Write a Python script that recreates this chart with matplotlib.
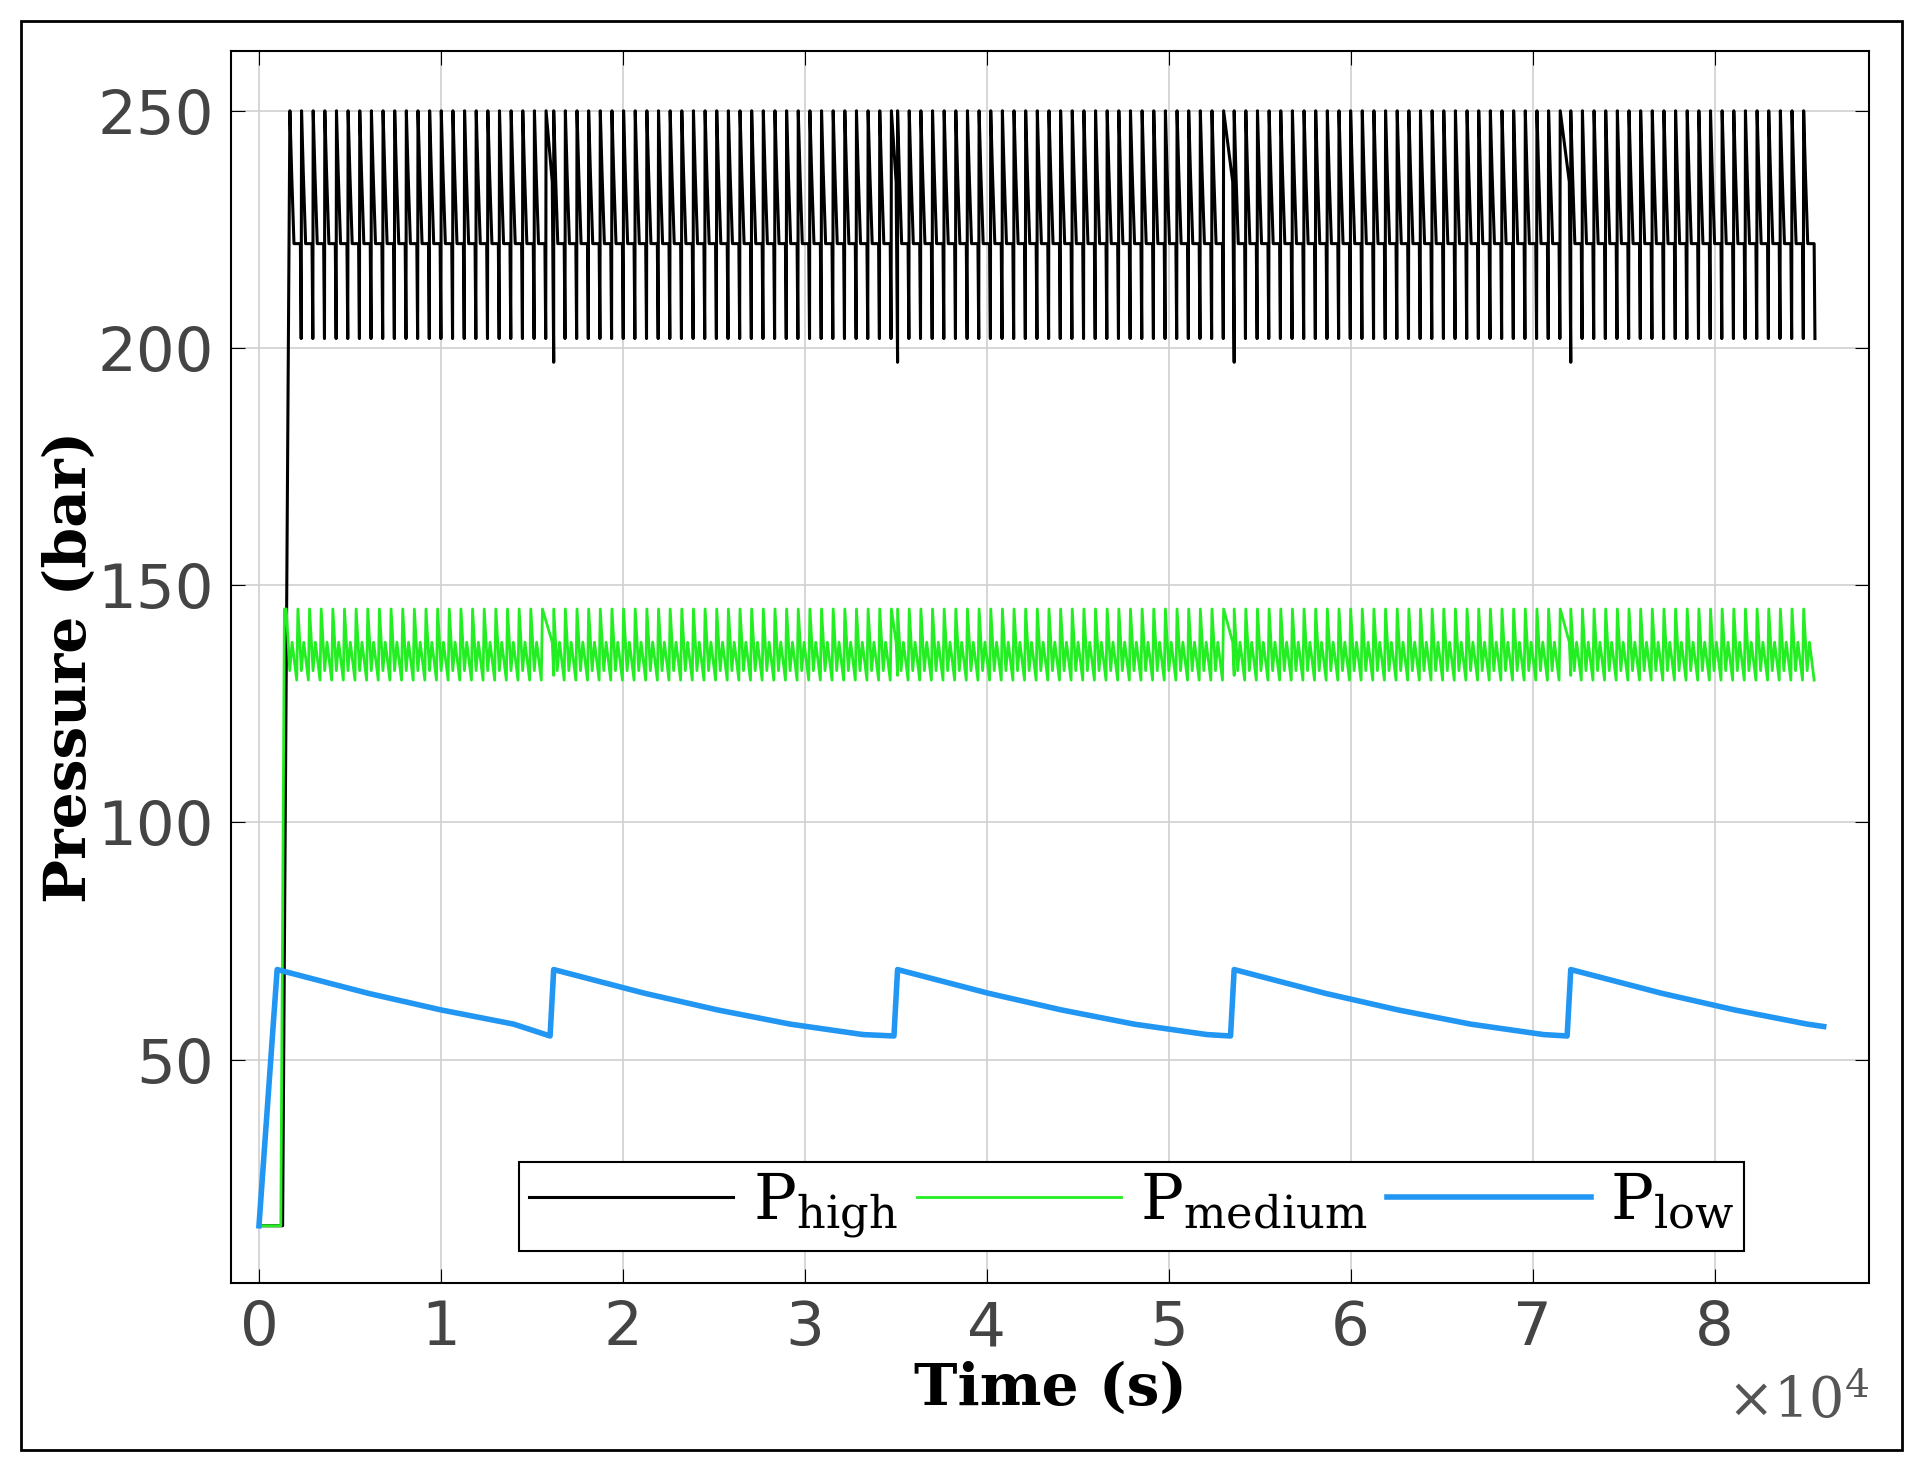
import numpy as np
import matplotlib.pyplot as plt

plt.rcParams["mathtext.fontset"] = "dejavuserif"

# refill events (s) and cycle timing
event_times = [1.62e4, 3.51e4, 5.36e4, 7.21e4]
t_start = 0.15e4
t_end = 8.6e4
cycle_period = 640.0

# one compressor cycle, (fraction of period, pressure)
high_cycle = [(0.0, 250), (0.15, 237), (0.35, 222), (0.9, 222), (0.97, 202)]
medium_cycle = [(0.0, 145), (0.3, 132), (0.5, 138), (0.9, 130)]
# low-pressure tank decay after each refill, (s after refill, bar)
low_decay = [(0, 69), (2000, 67), (5000, 64), (9000, 60.5), (13000, 57.5), (17000, 55.3)]

# start-up ramp values
high_rise = [(0, 15), (0.13e4, 15), (0.17e4, 250)]
medium_rise = [(0, 15), (0.12e4, 15), (0.14e4, 145)]
low_rise = [(0, 15), (0.1e4, 69)]

# values around refill events
high_pre, high_dip = 235, 197
medium_pre, medium_dip = 138, 131

yticks = [50, 100, 150, 200, 250]
xticks = [0, 1e4, 2e4, 3e4, 4e4, 5e4, 6e4, 7e4, 8e4]


def tile(cycle, t0, t1, pre, dip):
    ts, ps = [], []
    bounds = [t0] + event_times + [t1]
    for a, b in zip(bounds[:-1], bounds[1:]):
        t = a
        while t + cycle_period < b - 100:
            for f, p in cycle:
                ts.append(t + f * cycle_period)
                ps.append(p)
            t += cycle_period
        if b != t1:
            ts += [t, b - 80, b]
            ps += [cycle[0][1], pre, dip]
    return ts, ps


ht, hp = tile(high_cycle, t_start + 200, t_end, high_pre, high_dip)
ht = [p[0] for p in high_rise] + ht
hp = [p[1] for p in high_rise] + hp
mt, mp = tile(medium_cycle, t_start, t_end, medium_pre, medium_dip)
mt = [p[0] for p in medium_rise] + mt
mp = [p[1] for p in medium_rise] + mp

lt = [p[0] for p in low_rise]
lp = [p[1] for p in low_rise]
starts = [0.1e4] + event_times
for i, s in enumerate(starts):
    nxt = starts[i + 1] if i + 1 < len(starts) else t_end
    for dt, p in low_decay:
        if s + dt < nxt - 200:
            lt.append(s + dt)
            lp.append(p)
    if i + 1 == len(starts):
        lt.append(t_end)
        lp.append(57)
    else:
        lt.append(nxt - 200)
        lp.append(55)

fig = plt.figure(figsize=(19.23, 14.71), dpi=100)
ax = fig.add_axes([0.12, 0.128, 0.852, 0.837])
ax.plot(ht, hp, color="black", lw=2.2, label=r"P$_{\rm high}$")
ax.plot(mt, mp, color="#22ee22", lw=2.0, label=r"P$_{\rm medium}$")
ax.plot(lt, lp, color="#2196f3", lw=4, label=r"P$_{\rm low}$")

ax.set_xlim(-0.155e4, 8.85e4)
ax.set_ylim(3, 262.5)
ax.set_xticks(xticks)
ax.set_xticklabels([str(i) for i in range(9)])
ax.set_yticks(yticks)
ax.grid(color="#d0d0d0", lw=1.2)
ax.tick_params(direction="in", length=10, labelsize=44, labelcolor="#444444",
               top=True, right=True, pad=12)
for s in ax.spines.values():
    s.set_linewidth(1.5)
ax.text(1.0, -0.075, r"$\times10^4$", transform=ax.transAxes, fontsize=40,
        color="#555555", ha="right", va="top")
ax.set_xlabel("Time (s)", family="DejaVu Serif", fontweight="bold", fontsize=42, labelpad=2)
ax.set_ylabel("Pressure (bar)", family="DejaVu Serif", fontweight="bold", fontsize=42, labelpad=0)

leg = ax.legend(loc="lower center", bbox_to_anchor=(0.55, 0.0), ncol=3, fancybox=False,
                edgecolor="black", framealpha=1, handlelength=3.2, handletextpad=0.3,
                columnspacing=0.3, prop={"family": "DejaVu Serif", "size": 46},
                borderpad=0.15)
leg.get_frame().set_linewidth(1.5)

fig.patches.append(plt.Rectangle((0.011, 0.014), 0.978, 0.972, transform=fig.transFigure,
                                 fill=False, ec="black", lw=2))
fig.savefig("out.png")
